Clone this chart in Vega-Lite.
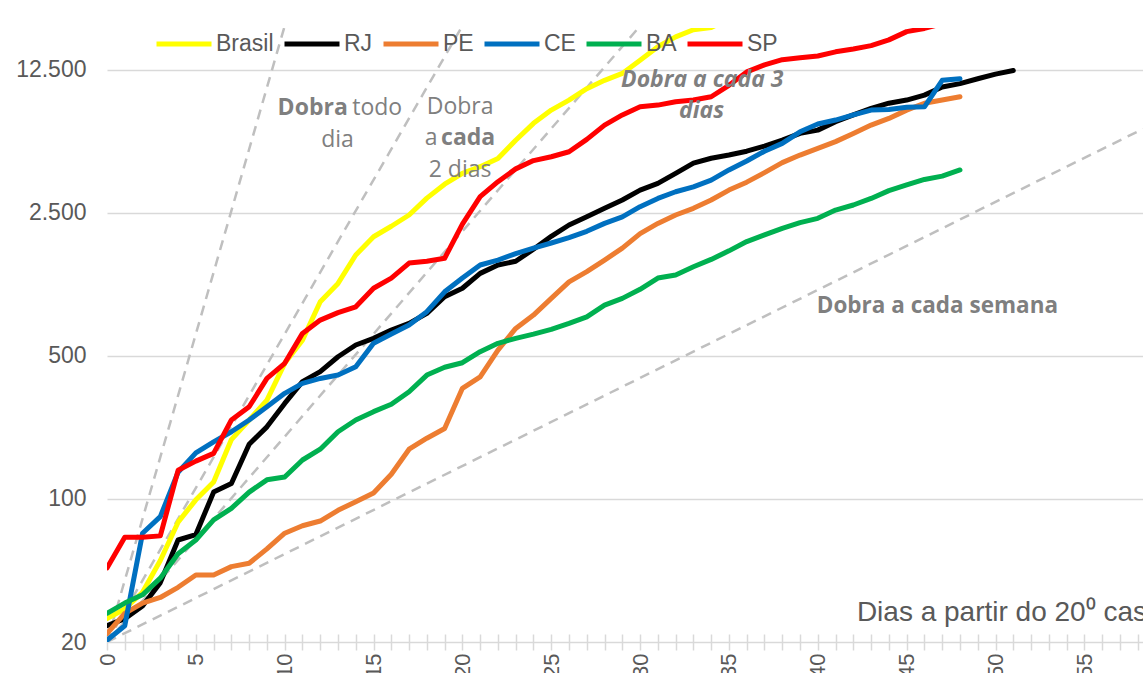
{
  "$schema": "https://vega.github.io/schema/vega-lite/v6.json",
  "width": 1036,
  "height": 614,
  "autosize": {"type": "none"},
  "padding": {"left": 107, "top": 28, "right": 0, "bottom": 31},
  "background": "white",
  "config": {"view": {"stroke": null}, "font": "Liberation Sans"},
  "datasets": {
    "refs": [
      {"r": "1", "d": 0, "v": 20}, {"r": "1", "d": 9.966, "v": 20000},
      {"r": "2", "d": 0, "v": 20}, {"r": "2", "d": 19.93, "v": 20000},
      {"r": "3", "d": 0, "v": 20}, {"r": "3", "d": 29.9, "v": 20000},
      {"r": "7", "d": 0, "v": 20}, {"r": "7", "d": 58.3, "v": 6430}
    ],
    "cases": [
      {"s":"Brasil","d":0,"v":26},{"s":"Brasil","d":1,"v":29},{"s":"Brasil","d":2,"v":35},{"s":"Brasil","d":3,"v":50},{"s":"Brasil","d":4,"v":77},{"s":"Brasil","d":5,"v":99},{"s":"Brasil","d":6,"v":121},{"s":"Brasil","d":7,"v":195},{"s":"Brasil","d":8,"v":243},{"s":"Brasil","d":9,"v":304},{"s":"Brasil","d":10,"v":460},{"s":"Brasil","d":11,"v":597},{"s":"Brasil","d":12,"v":920},{"s":"Brasil","d":13,"v":1130},{"s":"Brasil","d":14,"v":1556},{"s":"Brasil","d":15,"v":1910},{"s":"Brasil","d":16,"v":2150},{"s":"Brasil","d":17,"v":2440},{"s":"Brasil","d":18,"v":2950},{"s":"Brasil","d":19,"v":3450},{"s":"Brasil","d":20,"v":3900},{"s":"Brasil","d":21,"v":4200},{"s":"Brasil","d":22,"v":4610},{"s":"Brasil","d":23,"v":5660},{"s":"Brasil","d":24,"v":6840},{"s":"Brasil","d":25,"v":7940},{"s":"Brasil","d":26,"v":8890},{"s":"Brasil","d":27,"v":10100},{"s":"Brasil","d":28,"v":11100},{"s":"Brasil","d":29,"v":12000},{"s":"Brasil","d":30,"v":13900},{"s":"Brasil","d":31,"v":16200},{"s":"Brasil","d":32,"v":18100},{"s":"Brasil","d":33,"v":19600},{"s":"Brasil","d":34,"v":20100},{"s":"Brasil","d":35,"v":22200},
      {"s":"RJ","d":0,"v":24},{"s":"RJ","d":1,"v":26},{"s":"RJ","d":2,"v":30},{"s":"RJ","d":3,"v":39},{"s":"RJ","d":4,"v":63},{"s":"RJ","d":5,"v":67},{"s":"RJ","d":6,"v":108},{"s":"RJ","d":7,"v":119},{"s":"RJ","d":8,"v":185},{"s":"RJ","d":9,"v":225},{"s":"RJ","d":10,"v":293},{"s":"RJ","d":11,"v":374},{"s":"RJ","d":12,"v":419},{"s":"RJ","d":13,"v":495},{"s":"RJ","d":14,"v":565},{"s":"RJ","d":15,"v":609},{"s":"RJ","d":16,"v":668},{"s":"RJ","d":17,"v":721},{"s":"RJ","d":18,"v":807},{"s":"RJ","d":19,"v":973},{"s":"RJ","d":20,"v":1070},{"s":"RJ","d":21,"v":1265},{"s":"RJ","d":22,"v":1390},{"s":"RJ","d":23,"v":1450},{"s":"RJ","d":24,"v":1660},{"s":"RJ","d":25,"v":1920},{"s":"RJ","d":26,"v":2180},{"s":"RJ","d":27,"v":2390},{"s":"RJ","d":28,"v":2630},{"s":"RJ","d":29,"v":2890},{"s":"RJ","d":30,"v":3230},{"s":"RJ","d":31,"v":3480},{"s":"RJ","d":32,"v":3900},{"s":"RJ","d":33,"v":4370},{"s":"RJ","d":34,"v":4620},{"s":"RJ","d":35,"v":4790},{"s":"RJ","d":36,"v":5000},{"s":"RJ","d":37,"v":5300},{"s":"RJ","d":38,"v":5660},{"s":"RJ","d":39,"v":6110},{"s":"RJ","d":40,"v":6340},{"s":"RJ","d":41,"v":6970},{"s":"RJ","d":42,"v":7520},{"s":"RJ","d":43,"v":8090},{"s":"RJ","d":44,"v":8580},{"s":"RJ","d":45,"v":8890},{"s":"RJ","d":46,"v":9400},{"s":"RJ","d":47,"v":10300},{"s":"RJ","d":48,"v":10700},{"s":"RJ","d":49,"v":11300},{"s":"RJ","d":50,"v":11900},{"s":"RJ","d":51,"v":12400},
      {"s":"PE","d":0,"v":22},{"s":"PE","d":1,"v":27.6},{"s":"PE","d":2,"v":31},{"s":"PE","d":3,"v":33},{"s":"PE","d":4,"v":37},{"s":"PE","d":5,"v":42.5},{"s":"PE","d":6,"v":42.5},{"s":"PE","d":7,"v":46.7},{"s":"PE","d":8,"v":48.5},{"s":"PE","d":9,"v":57},{"s":"PE","d":10,"v":68},{"s":"PE","d":11,"v":74},{"s":"PE","d":12,"v":78},{"s":"PE","d":13,"v":88},{"s":"PE","d":14,"v":97},{"s":"PE","d":15,"v":107},{"s":"PE","d":16,"v":132},{"s":"PE","d":17,"v":175},{"s":"PE","d":18,"v":198},{"s":"PE","d":19,"v":221},{"s":"PE","d":20,"v":347},{"s":"PE","d":21,"v":395},{"s":"PE","d":22,"v":534},{"s":"PE","d":23,"v":681},{"s":"PE","d":24,"v":791},{"s":"PE","d":25,"v":955},{"s":"PE","d":26,"v":1150},{"s":"PE","d":27,"v":1290},{"s":"PE","d":28,"v":1470},{"s":"PE","d":29,"v":1680},{"s":"PE","d":30,"v":1980},{"s":"PE","d":31,"v":2220},{"s":"PE","d":32,"v":2440},{"s":"PE","d":33,"v":2630},{"s":"PE","d":34,"v":2890},{"s":"PE","d":35,"v":3230},{"s":"PE","d":36,"v":3530},{"s":"PE","d":37,"v":3930},{"s":"PE","d":38,"v":4400},{"s":"PE","d":39,"v":4790},{"s":"PE","d":40,"v":5160},{"s":"PE","d":41,"v":5570},{"s":"PE","d":42,"v":6110},{"s":"PE","d":43,"v":6710},{"s":"PE","d":44,"v":7230},{"s":"PE","d":45,"v":7940},{"s":"PE","d":46,"v":8580},{"s":"PE","d":47,"v":8890},{"s":"PE","d":48,"v":9230},
      {"s":"CE","d":0,"v":20.4},{"s":"CE","d":1,"v":24},{"s":"CE","d":2,"v":68},{"s":"CE","d":3,"v":82},{"s":"CE","d":4,"v":135},{"s":"CE","d":5,"v":168},{"s":"CE","d":6,"v":190},{"s":"CE","d":7,"v":213},{"s":"CE","d":8,"v":243},{"s":"CE","d":9,"v":282},{"s":"CE","d":10,"v":328},{"s":"CE","d":11,"v":367},{"s":"CE","d":12,"v":388},{"s":"CE","d":13,"v":403},{"s":"CE","d":14,"v":443},{"s":"CE","d":15,"v":576},{"s":"CE","d":16,"v":640},{"s":"CE","d":17,"v":708},{"s":"CE","d":18,"v":822},{"s":"CE","d":19,"v":1028},{"s":"CE","d":20,"v":1200},{"s":"CE","d":21,"v":1390},{"s":"CE","d":22,"v":1470},{"s":"CE","d":23,"v":1580},{"s":"CE","d":24,"v":1680},{"s":"CE","d":25,"v":1780},{"s":"CE","d":26,"v":1890},{"s":"CE","d":27,"v":2030},{"s":"CE","d":28,"v":2220},{"s":"CE","d":29,"v":2390},{"s":"CE","d":30,"v":2680},{"s":"CE","d":31,"v":2940},{"s":"CE","d":32,"v":3170},{"s":"CE","d":33,"v":3350},{"s":"CE","d":34,"v":3610},{"s":"CE","d":35,"v":4050},{"s":"CE","d":36,"v":4480},{"s":"CE","d":37,"v":5000},{"s":"CE","d":38,"v":5460},{"s":"CE","d":39,"v":6220},{"s":"CE","d":40,"v":6790},{"s":"CE","d":41,"v":7100},{"s":"CE","d":42,"v":7520},{"s":"CE","d":43,"v":7940},{"s":"CE","d":44,"v":8000},{"s":"CE","d":45,"v":8200},{"s":"CE","d":46,"v":8240},{"s":"CE","d":47,"v":11100},{"s":"CE","d":48,"v":11300},
      {"s":"BA","d":0,"v":27.6},{"s":"BA","d":1,"v":31},{"s":"BA","d":2,"v":34},{"s":"BA","d":3,"v":41},{"s":"BA","d":4,"v":54},{"s":"BA","d":5,"v":63},{"s":"BA","d":6,"v":79},{"s":"BA","d":7,"v":90},{"s":"BA","d":8,"v":108},{"s":"BA","d":9,"v":124},{"s":"BA","d":10,"v":128},{"s":"BA","d":11,"v":155},{"s":"BA","d":12,"v":175},{"s":"BA","d":13,"v":213},{"s":"BA","d":14,"v":243},{"s":"BA","d":15,"v":267},{"s":"BA","d":16,"v":290},{"s":"BA","d":17,"v":334},{"s":"BA","d":18,"v":403},{"s":"BA","d":19,"v":440},{"s":"BA","d":20,"v":463},{"s":"BA","d":21,"v":524},{"s":"BA","d":22,"v":576},{"s":"BA","d":23,"v":609},{"s":"BA","d":24,"v":639},{"s":"BA","d":25,"v":674},{"s":"BA","d":26,"v":721},{"s":"BA","d":27,"v":776},{"s":"BA","d":28,"v":885},{"s":"BA","d":29,"v":955},{"s":"BA","d":30,"v":1058},{"s":"BA","d":31,"v":1200},{"s":"BA","d":32,"v":1242},{"s":"BA","d":33,"v":1362},{"s":"BA","d":34,"v":1480},{"s":"BA","d":35,"v":1630},{"s":"BA","d":36,"v":1810},{"s":"BA","d":37,"v":1950},{"s":"BA","d":38,"v":2100},{"s":"BA","d":39,"v":2240},{"s":"BA","d":40,"v":2350},{"s":"BA","d":41,"v":2580},{"s":"BA","d":42,"v":2730},{"s":"BA","d":43,"v":2940},{"s":"BA","d":44,"v":3210},{"s":"BA","d":45,"v":3420},{"s":"BA","d":46,"v":3640},{"s":"BA","d":47,"v":3780},{"s":"BA","d":48,"v":4050},
      {"s":"SP","d":0,"v":46},{"s":"SP","d":1,"v":65},{"s":"SP","d":2,"v":65},{"s":"SP","d":3,"v":66},{"s":"SP","d":4,"v":138},{"s":"SP","d":5,"v":153},{"s":"SP","d":6,"v":167},{"s":"SP","d":7,"v":243},{"s":"SP","d":8,"v":282},{"s":"SP","d":9,"v":388},{"s":"SP","d":10,"v":460},{"s":"SP","d":11,"v":644},{"s":"SP","d":12,"v":748},{"s":"SP","d":13,"v":813},{"s":"SP","d":14,"v":869},{"s":"SP","d":15,"v":1070},{"s":"SP","d":16,"v":1200},{"s":"SP","d":17,"v":1420},{"s":"SP","d":18,"v":1450},{"s":"SP","d":19,"v":1500},{"s":"SP","d":20,"v":2200},{"s":"SP","d":21,"v":3000},{"s":"SP","d":22,"v":3550},{"s":"SP","d":23,"v":4100},{"s":"SP","d":24,"v":4500},{"s":"SP","d":25,"v":4700},{"s":"SP","d":26,"v":4970},{"s":"SP","d":27,"v":5710},{"s":"SP","d":28,"v":6710},{"s":"SP","d":29,"v":7520},{"s":"SP","d":30,"v":8240},{"s":"SP","d":31,"v":8400},{"s":"SP","d":32,"v":8730},{"s":"SP","d":33,"v":8890},{"s":"SP","d":34,"v":9230},{"s":"SP","d":35,"v":10500},{"s":"SP","d":36,"v":12200},{"s":"SP","d":37,"v":13200},{"s":"SP","d":38,"v":14000},{"s":"SP","d":39,"v":14300},{"s":"SP","d":40,"v":14600},{"s":"SP","d":41,"v":15300},{"s":"SP","d":42,"v":15800},{"s":"SP","d":43,"v":16400},{"s":"SP","d":44,"v":17500},{"s":"SP","d":45,"v":19200},{"s":"SP","d":46,"v":19900},{"s":"SP","d":47,"v":21000}
    ]
  },
  "layer": [
    {
      "data": {"name": "refs"},
      "mark": {"type": "line", "clip": true, "color": "#bfbfbf", "strokeWidth": 2.5, "strokeDash": [10, 7]},
      "encoding": {
        "x": {
          "field": "d", "type": "quantitative",
          "scale": {"domain": [0, 58.3], "nice": false, "zero": false},
          "axis": {
            "values": [0,1,2,3,4,5,6,7,8,9,10,11,12,13,14,15,16,17,18,19,20,21,22,23,24,25,26,27,28,29,30,31,32,33,34,35,36,37,38,39,40,41,42,43,44,45,46,47,48,49,50,51,52,53,54,55,56,57,58],
            "tickCount": 200,
            "format": "d",
            "labelExpr": "datum.value % 5 === 0 ? format(datum.value, 'd') : ''",
            "labelAngle": -90, "labelFontSize": 22, "labelColor": "#595959", "labelFont": "Liberation Sans",
            "labelPadding": 3, "labelOverlap": false, "labelFlush": false, "labelBound": false,
            "tickSize": 16, "tickColor": "#d9d9d9", "tickWidth": 1.5, "offset": -8,
            "domain": false, "grid": false, "title": null
          }
        },
        "y": {
          "field": "v", "type": "quantitative",
          "scale": {"type": "log", "domain": [20, 20000], "nice": false},
          "axis": {
            "values": [20, 100, 500, 2500, 12500],
            "labelExpr": "replace(format(datum.value, ','), ',', '.')",
            "labelFontSize": 23, "labelColor": "#595959", "labelFont": "Liberation Sans",
            "labelPadding": 21, "ticks": false, "tickSize": 0, "domain": false,
            "grid": true, "gridColor": "#d9d9d9", "gridWidth": 1.5, "title": null
          }
        },
        "detail": {"field": "r", "type": "nominal"}
      }
    },
    {
      "data": {"name": "cases"},
      "mark": {"type": "line", "clip": true, "strokeWidth": 5, "strokeCap": "round", "strokeJoin": "round"},
      "encoding": {
        "x": {"field": "d", "type": "quantitative"},
        "y": {"field": "v", "type": "quantitative"},
        "color": {
          "field": "s", "type": "nominal",
          "scale": {"domain": ["Brasil", "RJ", "PE", "CE", "BA", "SP"], "range": ["#FFFF00", "#000000", "#ED7D31", "#0070C0", "#00B050", "#FF0000"]},
          "legend": {
            "title": null, "orient": "none", "legendX": 47, "legendY": -14, "direction": "horizontal",
            "symbolType": "stroke", "symbolSize": 3025, "symbolStrokeWidth": 5,
            "labelFontSize": 23, "labelColor": "#595959", "labelFont": "Liberation Sans",
            "labelOffset": 2, "columnPadding": 0, "padding": 0, "labelLimit": 200
          }
        }
      }
    },
    {"data": {"values": [{}]}, "mark": {"type": "text", "text": "Dobra", "font": "Open Sans", "fontWeight": "bold", "fontSize": 23, "color": "#7f7f7f", "align": "right", "baseline": "middle"}, "encoding": {"x": {"datum": 13.55}, "y": {"datum": 8130}}},
    {"data": {"values": [{}]}, "mark": {"type": "text", "text": "todo", "font": "Open Sans", "fontSize": 23, "color": "#7f7f7f", "align": "left", "baseline": "middle"}, "encoding": {"x": {"datum": 13.8}, "y": {"datum": 8130}}},
    {"data": {"values": [{}]}, "mark": {"type": "text", "text": "dia", "font": "Open Sans", "fontSize": 23, "color": "#7f7f7f", "align": "center", "baseline": "middle"}, "encoding": {"x": {"datum": 12.97}, "y": {"datum": 5670}}},
    {"data": {"values": [{}]}, "mark": {"type": "text", "text": "Dobra", "font": "Open Sans", "fontSize": 23, "color": "#7f7f7f", "align": "center", "baseline": "middle"}, "encoding": {"x": {"datum": 19.87}, "y": {"datum": 8220}}},
    {"data": {"values": [{}]}, "mark": {"type": "text", "text": "a", "font": "Open Sans", "fontSize": 23, "color": "#7f7f7f", "align": "right", "baseline": "middle"}, "encoding": {"x": {"datum": 18.6}, "y": {"datum": 5800}}},
    {"data": {"values": [{}]}, "mark": {"type": "text", "text": "cada", "font": "Open Sans", "fontWeight": "bold", "fontSize": 23, "color": "#7f7f7f", "align": "left", "baseline": "middle"}, "encoding": {"x": {"datum": 18.8}, "y": {"datum": 5800}}},
    {"data": {"values": [{}]}, "mark": {"type": "text", "text": "2 dias", "font": "Open Sans", "fontSize": 23, "color": "#7f7f7f", "align": "center", "baseline": "middle"}, "encoding": {"x": {"datum": 19.87}, "y": {"datum": 4045}}},
    {"data": {"values": [{}]}, "mark": {"type": "text", "text": "Dobra a cada 3", "font": "Open Sans", "fontWeight": "bold", "fontStyle": "italic", "fontSize": 23, "color": "#7f7f7f", "align": "center", "baseline": "middle"}, "encoding": {"x": {"datum": 33.5}, "y": {"datum": 11130}}},
    {"data": {"values": [{}]}, "mark": {"type": "text", "text": "dias", "font": "Open Sans", "fontWeight": "bold", "fontStyle": "italic", "fontSize": 23, "color": "#7f7f7f", "align": "center", "baseline": "middle"}, "encoding": {"x": {"datum": 33.46}, "y": {"datum": 7850}}},
    {"data": {"values": [{}]}, "mark": {"type": "text", "text": "Dobra a cada semana", "font": "Open Sans", "fontWeight": "bold", "fontSize": 22.5, "color": "#7f7f7f", "align": "center", "baseline": "middle"}, "encoding": {"x": {"datum": 46.73}, "y": {"datum": 875}}},
    {"data": {"values": [{}]}, "mark": {"type": "text", "text": "Dias a partir do 20⁰ caso", "font": "Liberation Sans", "fontSize": 28, "color": "#595959", "align": "left", "baseline": "alphabetic"}, "encoding": {"x": {"datum": 42.2}, "y": {"datum": 25.3}}}
  ]
}
